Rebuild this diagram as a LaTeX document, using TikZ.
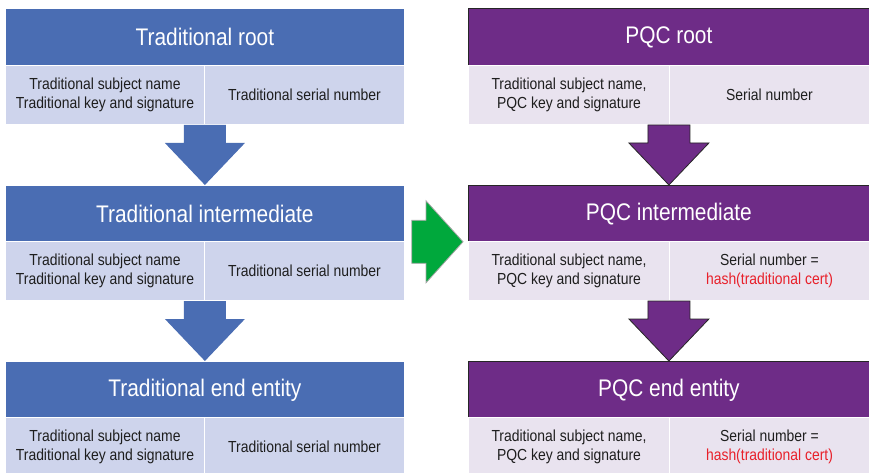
\documentclass[tikz,border=0pt]{standalone}
\usepackage{fontspec}
\setmainfont{Liberation Sans}[FakeStretch=0.87]
\usetikzlibrary{calc}
\definecolor{tradblue}{HTML}{4A6DB3}
\definecolor{tradcell}{HTML}{CED4EC}
\definecolor{pqcpurple}{HTML}{6E2C87}
\definecolor{pqccell}{HTML}{E9E3EF}
\definecolor{greenarrow}{HTML}{00A83C}
\definecolor{hashred}{HTML}{E8202A}
\definecolor{celltext}{HTML}{1E1E1E}
\begin{document}
\begin{tikzpicture}[x=1pt,y=-1pt,
  hdr/.style={rectangle, line width=0.8pt, minimum height=57pt, inner sep=0pt, text=white, font=\fontsize{24}{27}\selectfont},
  tradhdr/.style={hdr, fill=tradblue, draw=white, minimum width=399pt},
  pqchdr/.style={hdr, fill=pqcpurple, draw=black!85, minimum width=401pt},
  cellbox/.style={rectangle, draw=white, line width=1pt, minimum height=59pt, inner sep=0pt, align=center, text=celltext, font=\fontsize{16}{18.5}\selectfont},
  tcell/.style={cellbox, fill=tradcell},
  pcell/.style={cellbox, fill=pqccell},
  tarrow/.style={fill=tradblue},
  parrow/.style={fill=pqcpurple, draw=black!85, line width=0.8pt},
  garrow/.style={fill=greenarrow, draw=gray!70, line width=0.8pt}
]
\useasboundingbox (0,0) rectangle (869,473);

% Left column
\node[tradhdr, anchor=north west] (L1h) at (5,8) {Traditional root};
\node[tcell, minimum width=199pt, anchor=north west] (L1a) at (5,65) {Traditional subject name\\Traditional key and signature};
\node[tcell, minimum width=200pt, anchor=north west] (L1b) at (204,65) {Traditional serial number};

\node[tradhdr, anchor=north west] (L2h) at (5,185) {Traditional intermediate};
\node[tcell, minimum width=199pt, anchor=north west] (L2a) at (5,241) {Traditional subject name\\Traditional key and signature};
\node[tcell, minimum width=200pt, anchor=north west] (L2b) at (204,241) {Traditional serial number};

\node[tradhdr, anchor=north west] (L3h) at (5,361) {Traditional end entity};
\node[tcell, minimum width=199pt, anchor=north west] (L3a) at (5,417) {Traditional subject name\\Traditional key and signature};
\node[tcell, minimum width=200pt, anchor=north west] (L3b) at (204,417) {Traditional serial number};

% Right column
\node[pqchdr, anchor=north west] (R1h) at (468,8) {PQC root};
\node[pcell, minimum width=201pt, anchor=north west] (R1a) at (468,65) {Traditional subject name,\\PQC key and signature};
\node[pcell, minimum width=200pt, anchor=north west] (R1b) at (669,65) {Serial number};

\node[pqchdr, anchor=north west] (R2h) at (468,185) {PQC intermediate};
\node[pcell, minimum width=201pt, anchor=north west] (R2a) at (468,241) {Traditional subject name,\\PQC key and signature};
\node[pcell, minimum width=200pt, anchor=north west] (R2b) at (669,241) {Serial number =\\\textcolor{hashred}{hash(traditional cert)}};

\node[pqchdr, anchor=north west] (R3h) at (468,361) {PQC end entity};
\node[pcell, minimum width=201pt, anchor=north west] (R3a) at (468,417) {Traditional subject name,\\PQC key and signature};
\node[pcell, minimum width=200pt, anchor=north west] (R3b) at (669,417) {Serial number =\\\textcolor{hashred}{hash(traditional cert)}};

% Down arrows
\foreach \a/\b/\c/\s in {L1h/L1a/L2h/tarrow, L2h/L2a/L3h/tarrow, R1h/R1a/R2h/parrow, R2h/R2a/R3h/parrow}{
  \path[\s] ($(\a.center |- \b.south)+(-21,0)$) -- ($(\c.north)+(-21,-42)$) -- ($(\c.north)+(-40,-42)$) -- (\c.north)
    -- ($(\c.north)+(40,-42)$) -- ($(\c.north)+(21,-42)$) -- ($(\a.center |- \b.south)+(21,0)$) -- cycle;
}

% Green arrow
\coordinate (gt) at ($(L2h.south east)+(7,-1)$);
\coordinate (gh) at ($(R2h.south west)+(-5,-1)$);
\path[garrow] ($(gt)+(0,-21.5)$) -- ($(gh)+(-37,-21.5)$) -- ($(gh)+(-37,-41)$) -- (gh)
  -- ($(gh)+(-37,41)$) -- ($(gh)+(-37,21.5)$) -- ($(gt)+(0,21.5)$) -- cycle;
\end{tikzpicture}
\end{document}
